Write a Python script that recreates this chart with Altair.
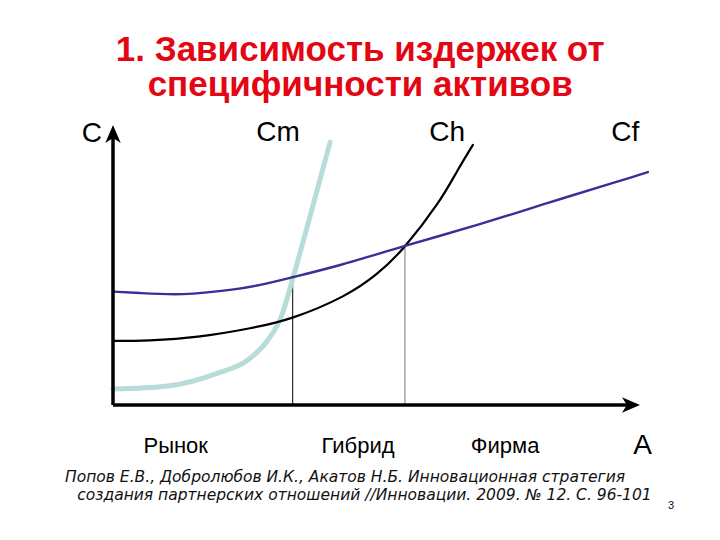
import altair as alt
import pandas as pd

# ---- data (x: asset specificity 0..100, y: cost 0..100) ----
title_lines = ["1. Зависимость издержек от", "специфичности активов"]
title_y = [123.0, 110.4]

cm_x = [0.0, 10.4, 19.9, 25.6, 29.4, 31.9, 34.2, 37.6, 41.2]
cm_y = [5.7, 6.8, 11.4, 16.1, 23.2, 31.4, 45.7, 68.9, 93.9]

ch_x = [0.0, 7.0, 16.5, 26.0, 34.2, 43.6, 50.1, 55.4, 61.5, 65.3, 68.3]
ch_y = [22.9, 23.1, 24.5, 27.4, 31.3, 38.8, 46.9, 56.7, 71.7, 83.5, 92.9]

cf_x = [0.0, 5.1, 13.3, 22.2, 27.9, 34.2, 43.1, 55.4, 69.6, 82.4, 94.9, 101.5]
cf_y = [40.5, 40.0, 39.6, 41.1, 42.9, 45.7, 50.0, 56.8, 64.6, 72.1, 79.3, 83.2]

boundary_names = ["Рынок|Гибрид", "Гибрид|Фирма"]
boundary_x = [34.1, 55.4]
boundary_top = [45.7, 56.8]

curve_labels = ["C", "Cm", "Ch", "Cf"]
curve_label_x = [-4.0, 31.3, 63.4, 97.2]
curve_label_y = [93.9, 94.3, 94.3, 94.3]

zone_labels = ["Рынок", "Гибрид", "Фирма"]
zone_x = [11.9, 46.5, 74.4]
zone_y = [-17.3, -17.3, -17.3]

axis_label = ["A"]
axis_label_x = [100.5]
axis_label_y = [-17.5]

citation = [
    "Попов Е.В., Добролюбов И.К., Акатов Н.Б. Инновационная стратегия",
    "создания партнерских отношений //Инновации. 2009. № 12. С. 96-101",
]
citation_x = [-9.1, -6.8]
citation_y = [-27.5, -33.9]
page_number = ["3"]
page_x = [105.3]
page_y = [-37.0]

# ---- tables ----
FONT = "Liberation Sans"
xs = alt.Scale(domain=[0, 100], nice=False, zero=False)
ys = alt.Scale(domain=[0, 100], nice=False, zero=False)
X = lambda f="x": alt.X(f"{f}:Q", scale=xs, axis=None)
Y = lambda f="y": alt.Y(f"{f}:Q", scale=ys, axis=None)

cm_df = pd.DataFrame({"x": cm_x, "y": cm_y})
ch_df = pd.DataFrame({"x": ch_x, "y": ch_y})
cf_df = pd.DataFrame({"x": cf_x, "y": cf_y})
bnd_df = pd.DataFrame({"name": boundary_names, "x": boundary_x, "y": [0, 0], "y2": boundary_top})

axes_df = pd.DataFrame({"x": [0, 0], "y": [0, 0], "x2": [0, 99], "y2": [98, 0]})
arrow_df = pd.DataFrame({"x": [0, 100], "y": [100, 0], "angle": [0, 90]})

title_df = pd.DataFrame({"t": title_lines, "x": [46.9, 46.9], "y": title_y})
clab_df = pd.DataFrame({"t": curve_labels, "x": curve_label_x, "y": curve_label_y})
zlab_df = pd.DataFrame({"t": zone_labels, "x": zone_x, "y": zone_y})
alab_df = pd.DataFrame({"t": axis_label, "x": axis_label_x, "y": axis_label_y})
cit_df = pd.DataFrame({"t": citation, "x": citation_x, "y": citation_y})
pg_df = pd.DataFrame({"t": page_number, "x": page_x, "y": page_y})

# ---- layers ----
cm_line = alt.Chart(cm_df).mark_line(
    interpolate="monotone", color="#b8dcd8", strokeWidth=5, strokeCap="round"
).encode(x=X(), y=Y())
ch_line = alt.Chart(ch_df).mark_line(
    interpolate="natural", color="#000000", strokeWidth=2.2, strokeCap="round"
).encode(x=X(), y=Y())
cf_line = alt.Chart(cf_df).mark_line(
    interpolate="natural", color="#3a2f96", strokeWidth=2.4, strokeCap="round"
).encode(x=X(), y=Y())

bnd = alt.Chart(bnd_df).mark_rule(strokeWidth=1).encode(
    x=X(), y=Y(), y2="y2:Q",
    color=alt.Color("name:N", scale=alt.Scale(domain=boundary_names, range=["#000000", "#777777"]), legend=None),
)

axes = alt.Chart(axes_df).mark_rule(strokeWidth=3.5, color="black").encode(
    x=X(), y=Y(), x2="x2:Q", y2="y2:Q"
)
arrow_path = "M0,0L0.62,1.45L0,1.05L-0.62,1.45Z"
arrows = alt.Chart(arrow_df).mark_point(
    shape=arrow_path, filled=True, color="black", size=620, opacity=1
).encode(x=X(), y=Y(), angle=alt.Angle("angle:Q", scale=None))

title = alt.Chart(title_df).mark_text(
    font=FONT, fontSize=35, fontWeight="bold", color="#e30613", align="center", baseline="alphabetic"
).encode(x=X(), y=Y(), text="t:N")

clab = alt.Chart(clab_df).mark_text(
    font=FONT, fontSize=28, color="black", align="center", baseline="alphabetic"
).encode(x=X(), y=Y(), text="t:N")

zlab = alt.Chart(zlab_df).mark_text(
    font=FONT, fontSize=22, color="black", align="center", baseline="alphabetic"
).encode(x=X(), y=Y(), text="t:N")

alab = alt.Chart(alab_df).mark_text(
    font=FONT, fontSize=28, color="black", align="center", baseline="alphabetic"
).encode(x=X(), y=Y(), text="t:N")

cit = alt.Chart(cit_df).mark_text(
    font="DejaVu Sans", fontSize=15.5, fontStyle="italic", color="#111111", align="left", baseline="alphabetic"
).encode(x=X(), y=Y(), text="t:N")

pg = alt.Chart(pg_df).mark_text(
    font=FONT, fontSize=11, color="#111111", align="left", baseline="alphabetic"
).encode(x=X(), y=Y(), text="t:N")

chart = alt.layer(
    bnd, cm_line, ch_line, cf_line, axes, arrows, title, clab, zlab, alab, cit, pg
).properties(
    width=527, height=280,
    padding={"left": 113, "top": 125, "right": 80, "bottom": 135},
    autosize="none",
    background="white",
).configure_view(stroke=None)

chart.save("out.html", embed_options={"renderer": "svg", "actions": False})
